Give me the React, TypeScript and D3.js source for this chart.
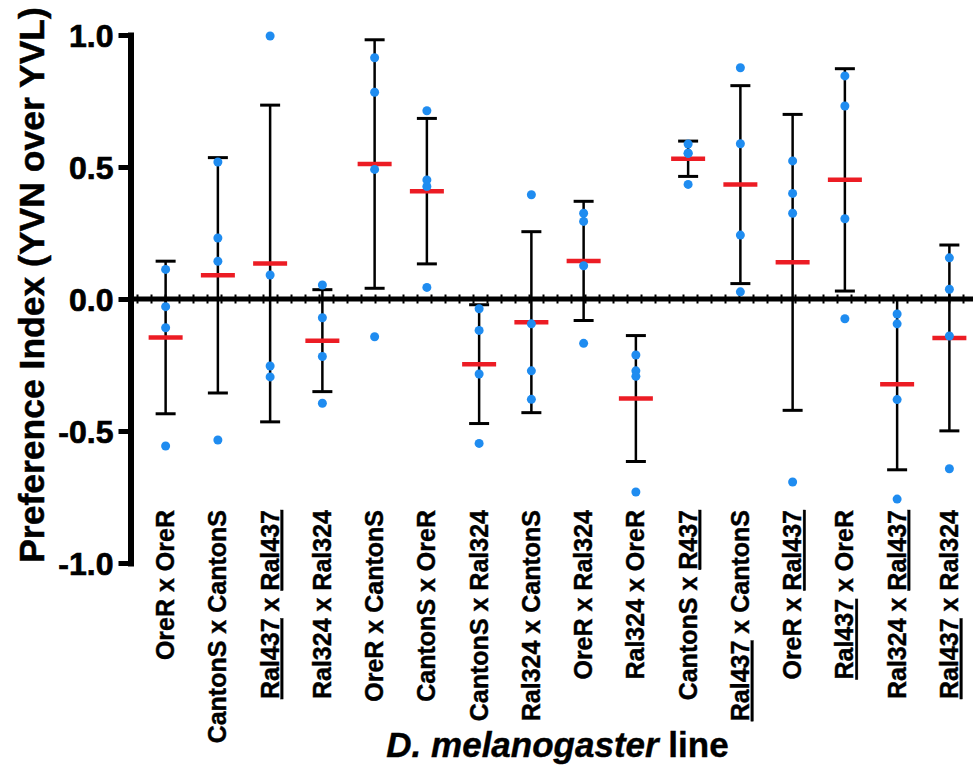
import { useEffect, useRef } from "react";
import * as d3 from "d3";

// crosses, left to right
const crosses = [
  "OreR x OreR",
  "CantonS x CantonS",
  "Ral437 x Ral437",
  "Ral324 x Ral324",
  "OreR x CantonS",
  "CantonS x OreR",
  "CantonS x Ral324",
  "Ral324 x CantonS",
  "OreR x Ral324",
  "Ral324 x OreR",
  "CantonS x R437",
  "Ral437 x CantonS",
  "OreR x Ral437",
  "Ral437 x OreR",
  "Ral324 x Ral437",
  "Ral437 x Ral324",
];

// preference index of each replicate, same order as crosses
const replicates = [
  [0.112, -0.029, -0.109, -0.557],
  [0.519, 0.231, 0.143, -0.534],
  [0.996, 0.091, -0.254, -0.295],
  [0.053, -0.071, -0.218, -0.395],
  [0.914, 0.783, 0.491, -0.143],
  [0.713, 0.451, 0.426, 0.044],
  [-0.037, -0.119, -0.284, -0.547],
  [0.395, -0.094, -0.272, -0.38],
  [0.325, 0.294, 0.126, -0.168],
  [-0.212, -0.272, -0.293, -0.731],
  [0.587, 0.552, 0.552, 0.434],
  [0.876, 0.588, 0.242, 0.027],
  [0.523, 0.4, 0.325, -0.693],
  [0.845, 0.731, 0.304, -0.075],
  [-0.057, -0.094, -0.381, -0.758],
  [0.156, 0.037, -0.14, -0.643],
];

const yTicks = [-1, -0.5, 0, 0.5, 1];
const underlined = ["Ral437", "R437"];

const FONT = "'Liberation Sans', Arial, sans-serif";

const App = () => {
  const svgRef = useRef<SVGSVGElement>(null);

  useEffect(() => {
    const width = 973;
    const height = 765;
    const axisX = 130.5;

    const svg = d3.select(svgRef.current);
    svg.selectAll("*").remove();
    svg.attr("width", width).attr("height", height);

    const x = d3.scaleBand().domain(crosses).range([139.5, 975.5]);
    const cx = (c: string) => (x(c) as number) + x.bandwidth() / 2;
    const y = d3.scaleLinear().domain([-1, 1]).range([563, 35]);

    // zero line with its small minor ticks
    svg
      .append("line")
      .attr("x1", axisX)
      .attr("x2", width)
      .attr("y1", y(0))
      .attr("y2", y(0))
      .attr("stroke", "#000")
      .attr("stroke-width", 5);
    svg
      .append("line")
      .attr("x1", axisX + 6)
      .attr("x2", width)
      .attr("y1", y(0))
      .attr("y2", y(0))
      .attr("stroke", "#000")
      .attr("stroke-width", 9)
      .attr("stroke-dasharray", "2 12");

    // y axis
    const yAxis = svg
      .append("g")
      .attr("transform", `translate(${axisX},0)`)
      .call(
        d3
          .axisLeft(y)
          .tickValues(yTicks)
          .tickFormat((d) => (+d).toFixed(1))
          .tickSize(12)
          .tickSizeOuter(0)
          .tickPadding(5)
      );
    yAxis.select(".domain").attr("stroke-width", 6).attr("stroke-linecap", "square");
    yAxis.selectAll(".tick line").attr("stroke-width", 5);
    yAxis
      .selectAll(".tick text")
      .attr("font-family", FONT)
      .attr("font-weight", "bold")
      .attr("font-size", 32)
      .attr("dy", "0.36em")
      .attr("fill", "#000")
      .attr("stroke", "#000")
      .attr("stroke-width", 0.7);

    const stats = crosses.map((c, i) => {
      const m = d3.mean(replicates[i]) as number;
      const s = d3.deviation(replicates[i]) as number;
      return { c, m, s, vals: replicates[i] };
    });

    // SD error bars
    const bars = svg.append("g").attr("stroke", "#000");
    stats.forEach((d) => {
      const xc = cx(d.c);
      bars
        .append("line")
        .attr("x1", xc)
        .attr("x2", xc)
        .attr("y1", y(d.m + d.s))
        .attr("y2", y(d.m - d.s))
        .attr("stroke-width", 2.5);
      [d.m + d.s, d.m - d.s].forEach((v) => {
        bars
          .append("line")
          .attr("x1", xc - 10)
          .attr("x2", xc + 10)
          .attr("y1", y(v))
          .attr("y2", y(v))
          .attr("stroke-width", 3);
      });
    });

    // means
    svg
      .append("g")
      .selectAll("line")
      .data(stats)
      .join("line")
      .attr("x1", (d) => cx(d.c) - 17)
      .attr("x2", (d) => cx(d.c) + 17)
      .attr("y1", (d) => y(d.m))
      .attr("y2", (d) => y(d.m))
      .attr("stroke", "#ec1c24")
      .attr("stroke-width", 4.5);

    // replicate points
    svg
      .append("g")
      .selectAll("circle")
      .data(stats.flatMap((d) => d.vals.map((v) => ({ c: d.c, v }))))
      .join("circle")
      .attr("cx", (d) => cx(d.c))
      .attr("cy", (d) => y(d.v))
      .attr("r", 4.5)
      .attr("fill", "#1f8cf0");

    // category labels
    const labels = svg
      .append("g")
      .attr("font-family", FONT)
      .attr("font-weight", "bold")
      .attr("font-size", 25)
      .attr("stroke", "#000")
      .attr("stroke-width", 0.4)
      .style("white-space", "pre");
    crosses.forEach((c) => {
      const [a, b] = c.split(" x ");
      const t = labels
        .append("text")
        .attr("transform", `translate(${cx(c) + 8.5},510) rotate(-90)`)
        .attr("text-anchor", "end");
      t.append("tspan")
        .text(a)
        .style("text-decoration", underlined.includes(a) ? "underline" : "none");
      t.append("tspan").text(" x ");
      t.append("tspan")
        .text(b)
        .style("text-decoration", underlined.includes(b) ? "underline" : "none");
    });

    // axis titles
    const xt = svg
      .append("text")
      .attr("x", (cx(crosses[0]) + cx(crosses[crosses.length - 1])) / 2)
      .attr("y", 757)
      .attr("text-anchor", "middle")
      .attr("font-family", FONT)
      .attr("font-weight", "bold")
      .attr("font-size", 35)
      .attr("stroke", "#000")
      .attr("stroke-width", 0.4)
      .style("white-space", "pre");
    xt.append("tspan").attr("font-style", "italic").text("D. melanogaster");
    xt.append("tspan").text(" line");

    svg
      .append("text")
      .attr("transform", "translate(44,285) rotate(-90)")
      .attr("text-anchor", "middle")
      .attr("font-family", FONT)
      .attr("font-weight", "bold")
      .attr("font-size", 35.5)
      .attr("stroke", "#000")
      .attr("stroke-width", 0.5)
      .text("Preference Index (YVN over YVL)");

    return () => {
      svg.selectAll("*").remove();
    };
  }, []);

  return (
    <svg
      ref={svgRef}
      style={{ position: "absolute", left: 0, top: 0, display: "block", background: "#fff" }}
    ></svg>
  );
};

export default App;
